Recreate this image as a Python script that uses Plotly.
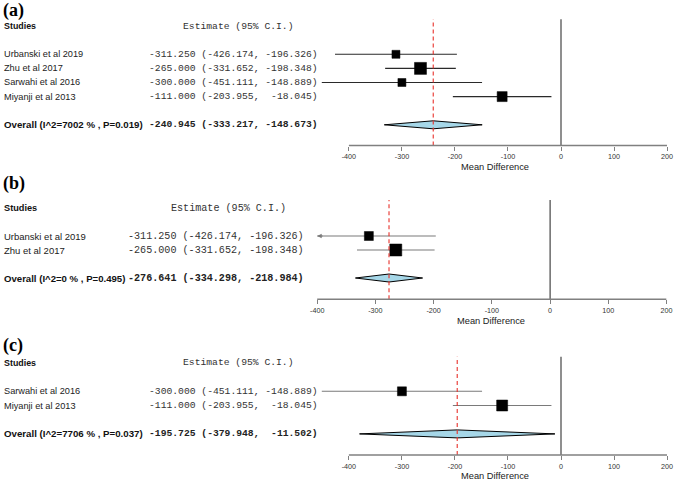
import plotly.graph_objects as go

W, H = 680, 482

# ---------------- data ----------------
studies_a = ["Urbanski et al 2019", "Zhu et al 2017", "Sarwahi et al 2016", "Miyanji et al 2013"]
est_a = [-311.250, -265.000, -300.000, -111.000]
lo_a = [-426.174, -331.652, -451.111, -203.955]
hi_a = [-196.326, -198.348, -148.889, -18.045]
overall_a = [-240.945, -333.217, -148.673]          # estimate, lower, upper
overall_label_a = "Overall (I^2=7002 % , P=0.019)"

studies_b = ["Urbanski et al 2019", "Zhu et al 2017"]
est_b = [-311.250, -265.000]
lo_b = [-426.174, -331.652]
hi_b = [-196.326, -198.348]
overall_b = [-276.641, -334.298, -218.984]
overall_label_b = "Overall (I^2=0 % , P=0.495)"

studies_c = ["Sarwahi et al 2016", "Miyanji et al 2013"]
est_c = [-300.000, -111.000]
lo_c = [-451.111, -203.955]
hi_c = [-148.889, -18.045]
overall_c = [-195.725, -379.948, -11.502]
overall_label_c = "Overall (I^2=7706 % , P=0.037)"

x_ticks = [-400, -300, -200, -100, 0, 100, 200]
panel_labels = ["(a)", "(b)", "(c)"]
x_title = "Mean Difference"
col_study = "Studies"
col_est = "Estimate (95% C.I.)"

# ---------------- style / geometry ----------------
panels = [
    dict(studies=studies_a, est=est_a, lo=lo_a, hi=hi_a, ov=overall_a, ovlab=overall_label_a,
         px_m400=352, px_200=673, xmin=-470, row0=54.3, sp=14.1, top=19.3, axis=145.5,
         title_y=10, est_x=148, head_x=183, xt_x=499, xt_y=167, mono=9.7, clip=None,
         fs_name=9.2, fs_bold=9.7, fs_head=8.9,
         line_col="#2a2a2a", boxes=[8, 12, 8, 10]),
    dict(studies=studies_b, est=est_b, lo=lo_b, hi=hi_b, ov=overall_b, ovlab=overall_label_b,
         px_m400=320, px_200=672.5, xmin=-420, row0=236, sp=14.0, top=200, axis=299.3,
         title_y=183, est_x=127, head_x=170, xt_x=495, xt_y=321, mono=10.1, clip=-400,
         fs_name=9.5, fs_bold=9.6, fs_head=9.2,
         line_col="#7a7a7a", boxes=[9, 12]),
    dict(studies=studies_c, est=est_c, lo=lo_c, hi=hi_c, ov=overall_c, ovlab=overall_label_c,
         px_m400=352, px_200=673, xmin=-470, row0=391.3, sp=14.2, top=356.7, axis=455,
         title_y=345, est_x=148, head_x=183, xt_x=499, xt_y=476, mono=9.7, clip=None,
         fs_name=9.2, fs_bold=9.7, fs_head=8.9,
         line_col="#7a7a7a", boxes=[9, 11]),
]

SANS = "Liberation Sans, Arial, sans-serif"
MONO = "Liberation Mono, Courier New, monospace"
SERIF = "Liberation Serif, Times New Roman, serif"


def px_x(p):
    return p / W


def px_y(p):
    return 1 - p / H


def fmt(e, l, h):
    s = f"{e:8.3f} ({l:8.3f}, {h:8.3f})"
    return s.replace(" ", "\u00a0")


fig = go.Figure()
shapes = []
annotations = []
layout_axes = {}

for i, P in enumerate(panels):
    s = "" if i == 0 else str(i + 1)
    xa, ya = "x" + s, "y" + s
    scale = (P["px_200"] - P["px_m400"]) / 600.0
    left_px = P["px_m400"] - (-400 - P["xmin"]) * scale
    row = lambda p, P=P: (p - P["row0"]) / P["sp"]
    n = len(P["studies"])
    rows = list(range(n))
    ov_row = n + 1

    layout_axes["xaxis" + s] = dict(
        domain=[px_x(left_px), px_x(P["px_200"])], range=[P["xmin"], 200], anchor=ya,
        showline=False, showgrid=False, zeroline=False, ticks="outside", ticklen=4,
        tickwidth=1, tickcolor="#808080", tickvals=x_ticks, ticktext=[str(v) for v in x_ticks],
        tickfont=dict(family=SANS, size=7.2, color="#333333"), fixedrange=True)
    layout_axes["yaxis" + s] = dict(
        domain=[px_y(P["axis"]), px_y(P["top"])], range=[row(P["axis"]), row(P["top"])],
        anchor=xa, visible=False, fixedrange=True)

    # CI lines
    for j in rows:
        lo = P["lo"][j]
        start = lo
        if P["clip"] is not None and lo < P["clip"]:
            start = P["clip"]
            annotations.append(dict(x=start, y=j, xref=xa, yref=ya, ax=start + 12, ay=j,
                                    axref=xa, ayref=ya, text="", showarrow=True, arrowhead=2,
                                    arrowsize=0.9, arrowwidth=1, arrowcolor=P["line_col"]))
        fig.add_trace(go.Scatter(x=[start, P["hi"][j]], y=[j, j], mode="lines",
                                 line=dict(color=P["line_col"], width=1.1),
                                 xaxis=xa, yaxis=ya, hoverinfo="skip", cliponaxis=False))
    # boxes
    fig.add_trace(go.Scatter(x=P["est"], y=rows, mode="markers",
                             marker=dict(symbol="square", size=P["boxes"], color="black",
                                         opacity=1, line=dict(width=0.5, color="black")),
                             xaxis=xa, yaxis=ya, cliponaxis=False))
    # diamond
    e, l, h = P["ov"]
    dh = 4.0 / P["sp"]
    fig.add_trace(go.Scatter(x=[l, e, h, e, l], y=[ov_row, ov_row - dh, ov_row, ov_row + dh, ov_row],
                             mode="lines", fill="toself", fillcolor="#A6D7E8",
                             line=dict(color="black", width=1), xaxis=xa, yaxis=ya,
                             cliponaxis=False))

    # vertical reference lines and axis line
    shapes.append(dict(type="line", xref=xa, yref=ya + " domain", x0=0, x1=0, y0=0, y1=1,
                       line=dict(color="#333333", width=1.1)))
    shapes.append(dict(type="line", xref=xa, yref=ya + " domain", x0=e, x1=e, y0=0, y1=1,
                       line=dict(color="#E8302A", width=1.1, dash="4px,3px"), layer="above"))
    shapes.append(dict(type="line", xref=xa, yref=ya + " domain", x0=-400, x1=200, y0=0, y1=0,
                       line=dict(color="#808080", width=1.6)))

    # texts
    annotations.append(dict(text="<b>" + panel_labels[i] + "</b>", xref="paper", yref="paper",
                            x=px_x(1), y=px_y(P["title_y"]), xanchor="left", yanchor="middle",
                            showarrow=False, font=dict(family=SERIF, size=18, color="black")))
    annotations.append(dict(text="<b>" + col_study + "</b>", xref="paper", yref=ya,
                            x=px_x(2), y=-2, xanchor="left", yanchor="middle",
                            showarrow=False, font=dict(family=SANS, size=P["fs_head"], color="#111111")))
    annotations.append(dict(text=col_est.replace(" ", "\u00a0"), xref="paper", yref=ya,
                            x=px_x(P["head_x"]), y=-2, xanchor="left", yanchor="middle",
                            showarrow=False, font=dict(family=MONO, size=P["mono"], color="#333333")))
    for j in rows:
        annotations.append(dict(text=P["studies"][j], xref="paper", yref=ya,
                                x=px_x(2), y=j, xanchor="left", yanchor="middle", showarrow=False,
                                font=dict(family=SANS, size=P["fs_name"], color="#222222")))
        annotations.append(dict(text=fmt(P["est"][j], P["lo"][j], P["hi"][j]), xref="paper", yref=ya,
                                x=px_x(P["est_x"]), y=j, xanchor="left", yanchor="middle",
                                showarrow=False, font=dict(family=MONO, size=P["mono"], color="#333333")))
    annotations.append(dict(text="<b>" + P["ovlab"] + "</b>", xref="paper", yref=ya,
                            x=px_x(2), y=ov_row, xanchor="left", yanchor="middle", showarrow=False,
                            font=dict(family=SANS, size=P["fs_bold"], color="#111111")))
    annotations.append(dict(text="<b>" + fmt(e, l, h) + "</b>", xref="paper", yref=ya,
                            x=px_x(P["est_x"]), y=ov_row, xanchor="left", yanchor="middle",
                            showarrow=False, font=dict(family=MONO, size=P["mono"], color="#222222")))
    annotations.append(dict(text=x_title, xref="paper", yref="paper", x=px_x(P["xt_x"]),
                            y=px_y(P["xt_y"]), xanchor="center", yanchor="middle", showarrow=False,
                            font=dict(family=SANS, size=9.3, color="#222222")))

fig.update_layout(
    width=W, height=H, margin=dict(l=0, r=0, t=0, b=0),
    paper_bgcolor="white", plot_bgcolor="white", showlegend=False,
    shapes=shapes, annotations=annotations, **layout_axes)

fig.write_html("out.html", config={"displayModeBar": False},
               post_script="document.body.style.margin='0px';")
